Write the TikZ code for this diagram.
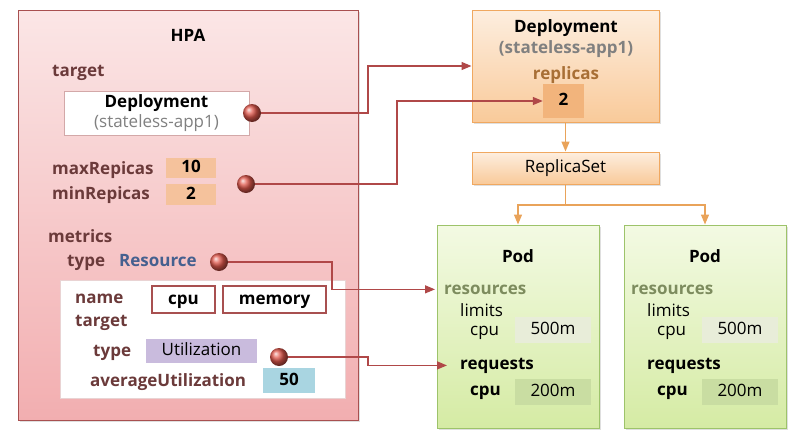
\documentclass[tikz,border=0pt]{standalone}
\usepackage{fontspec}
\setmainfont{Open Sans}
\usepackage{tikz}
\usetikzlibrary{arrows.meta,shadows}

\definecolor{hpaline}{HTML}{A85050}
\definecolor{hpatop}{HTML}{FBE6E6}
\definecolor{hpabot}{HTML}{F2AEB0}
\definecolor{hpatext}{HTML}{6B3A3A}
\definecolor{linkred}{HTML}{B04848}
\definecolor{peach}{HTML}{F5C29C}
\definecolor{lavender}{HTML}{C9BBDD}
\definecolor{skyblue}{HTML}{A9D5E1}
\definecolor{resblue}{HTML}{45608F}
\definecolor{deptop}{HTML}{FDEEDF}
\definecolor{depbot}{HTML}{F9CA9A}
\definecolor{depline}{HTML}{F0A860}
\definecolor{repbox}{HTML}{F2B47C}
\definecolor{repbrown}{HTML}{A86F35}
\definecolor{flowline}{HTML}{E9A35A}
\definecolor{podtop}{HTML}{F3FAE3}
\definecolor{podbot}{HTML}{D5EBA4}
\definecolor{podline}{HTML}{9DC36A}
\definecolor{resgreen}{HTML}{7D8C5E}
\definecolor{limbox}{HTML}{E8EDD9}
\definecolor{reqbox}{HTML}{C9DDA2}
\definecolor{ballred}{HTML}{E0584C}

\begin{document}
\begin{tikzpicture}[x=1pt,y=-1pt]
\tikzstyle{every node}=[inner sep=0pt, font=\fontsize{17}{21}\selectfont]
\tikzstyle{frame}=[draw, line width=1pt, drop shadow={opacity=0.25, shadow xshift=2pt, shadow yshift=-2pt}]
\tikzstyle{lbl}=[anchor=base west, text=hpatext, font=\fontsize{17}{21}\selectfont\bfseries]
\tikzstyle{valbox}=[text height=12.5pt, text depth=3.5pt, font=\fontsize{17}{21}\selectfont\bfseries]
\tikzstyle{ball}=[circle, minimum size=18pt, shading=ball, ball color=ballred]
\tikzstyle{link}=[draw=linkred, line width=1.3pt, -{Triangle[length=10pt,width=8pt]}]
\tikzstyle{flow}=[draw=flowline, line width=1.4pt, -{Triangle[length=10pt,width=8pt]}]
\useasboundingbox (0,0) rectangle (798,442);

% HPA
\node at (188,215) [frame, draw=hpaline, top color=hpatop, bottom color=hpabot,
  minimum width=340, minimum height=410] (hpa) {};
\node at (188,41) [anchor=base, font=\fontsize{17}{21}\selectfont\bfseries] (hpatitle) {HPA};
\node at (52,76) [lbl] (tgt) {target};
\node at (156.5,113) [draw=hpaline!50, fill=white, minimum width=185, minimum height=44,
  align=center, font=\fontsize{17}{20.5}\selectfont] (tgtdep) {\textbf{Deployment}\\\textcolor{gray}{(stateless-app1)}};
\node at (52,174) [lbl] (maxr) {maxRepicas};
\node at (52,199) [lbl] (minr) {minRepicas};
\node at (191,168) [valbox, fill=peach, minimum width=50, minimum height=20] (maxv) {10};
\node at (191,194.5) [valbox, fill=peach, minimum width=50, minimum height=21] (minv) {2};
\node at (48,242) [lbl] (met) {metrics};
\node at (67,266) [lbl] (mtype) {type};
\node at (119,266) [lbl, text=resblue] (mres) {Resource};

% metric spec
\node at (202.5,339) [draw=hpaline!25, fill=white, minimum width=285, minimum height=118] (spec) {};
\node at (75,303) [lbl] (sname) {name};
\node at (75,326) [lbl] (starget) {target};
\node at (183.5,299.5) [valbox, draw=hpaline, line width=1.2pt, fill=white,
  minimum width=63, minimum height=27] (cpu) {cpu};
\node at (274.5,299.5) [valbox, draw=hpaline, line width=1.2pt, fill=white,
  minimum width=103, minimum height=27] (mem) {memory};
\node at (93,356) [lbl] (ttype) {type};
\node at (201.5,351) [valbox, font=\fontsize{17}{21}\selectfont, fill=lavender,
  minimum width=111, minimum height=24] (util) {Utilization};
\node at (90,386) [lbl] (avg) {averageUtilization};
\node at (289,380.5) [valbox, fill=skyblue, minimum width=52, minimum height=25] (avgv) {50};

% Deployment / ReplicaSet
\node at (565.5,66) [frame, draw=depline, top color=deptop, bottom color=depbot,
  minimum width=187, minimum height=112] (dep) {};
\node at (566,32) [anchor=base, font=\fontsize{17}{21}\selectfont\bfseries] (deptitle) {Deployment};
\node at (566,53) [anchor=base, text=gray, font=\fontsize{17}{21}\selectfont\bfseries] (depname) {(stateless-app1)};
\node at (566,79) [anchor=base, text=repbrown, font=\fontsize{17}{21}\selectfont\bfseries] (replab) {replicas};
\node at (563.5,101) [valbox, fill=repbox, minimum width=41, minimum height=34] (repv) {2};
\node at (565.5,168) [frame, draw=depline, top color=deptop, bottom color=depbot,
  minimum width=187, minimum height=32, text height=12.5pt, text depth=3.5pt] (rs) {ReplicaSet};

% Pods
\node at (518,326.5) [frame, draw=podline, top color=podtop, bottom color=podbot,
  minimum width=162, minimum height=203] (pod1) {};
\node at (518,262) [anchor=base, font=\fontsize{17}{21}\selectfont\bfseries] (pod1t) {Pod};
\node at (444,294) [lbl, text=resgreen] (res1) {resources};
\node at (460,316) [anchor=base west] (lim1) {limits};
\node at (470,335) [anchor=base west] (lcpu1) {cpu};
\node at (553,330) [valbox, font=\fontsize{17}{21}\selectfont, fill=limbox,
  minimum width=76, minimum height=26] (lv1) {500m};
\node at (460,369) [lbl, text=black] (req1) {requests};
\node at (470,395) [lbl, text=black] (rcpu1) {cpu};
\node at (553,392) [valbox, font=\fontsize{17}{21}\selectfont, fill=reqbox,
  minimum width=76, minimum height=26] (rv1) {200m};

\node at (705,326.5) [frame, draw=podline, top color=podtop, bottom color=podbot,
  minimum width=162, minimum height=203] (pod2) {};
\node at (705,262) [anchor=base, font=\fontsize{17}{21}\selectfont\bfseries] (pod2t) {Pod};
\node at (631,294) [lbl, text=resgreen] (res2) {resources};
\node at (647,316) [anchor=base west] (lim2) {limits};
\node at (657,335) [anchor=base west] (lcpu2) {cpu};
\node at (740,330) [valbox, font=\fontsize{17}{21}\selectfont, fill=limbox,
  minimum width=76, minimum height=26] (lv2) {500m};
\node at (647,369) [lbl, text=black] (req2) {requests};
\node at (657,395) [lbl, text=black] (rcpu2) {cpu};
\node at (740,392) [valbox, font=\fontsize{17}{21}\selectfont, fill=reqbox,
  minimum width=76, minimum height=26] (rv2) {200m};

% balls
\node at (252,113) [ball] (b1) {};
\node at (246,184) [ball] (b2) {};
\node at (219,262) [ball] (b3) {};
\node at (279,357) [ball] (b4) {};

% links
\draw[link] (b1) -- ++(116,0) |- (dep.west);
\draw[link] (b2) -- ++(151,0) |- (repv.west);
\draw[link] (b3) -- ++(113,0) |- ([xshift=-9pt]res1.west);
\draw[link] (b4) -- ++(89,0) |- ([xshift=-13pt]req1.west);

\coordinate (split) at (565.5,205);
\draw[flow] (dep) -- (rs);
\draw[draw=flowline, line width=1.4pt] (rs) -- (split);
\draw[flow] (split) -| (pod1);
\draw[flow] (split) -| (pod2);
\end{tikzpicture}
\end{document}
